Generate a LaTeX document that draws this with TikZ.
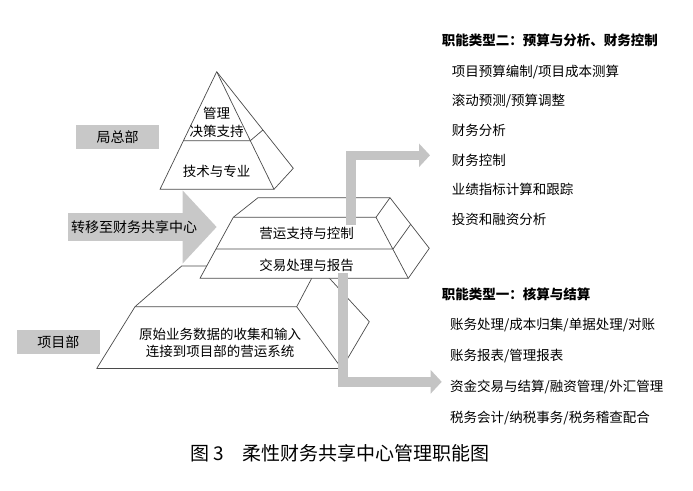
\documentclass[tikz,border=0pt]{standalone}
\usepackage{fontspec}
\setmainfont{Noto Sans CJK SC}
\usepackage{tikz}
\usetikzlibrary{arrows.meta}
\definecolor{boxgray}{HTML}{C8C8C8}
\definecolor{arrowgray}{HTML}{C4C4C4}
\definecolor{edgegray}{HTML}{4A4A4A}

\begin{document}
\begin{tikzpicture}[x=1pt, y=-1pt,
    tier/.style={draw=edgegray, line width=0.7pt, line join=round},
    lbl/.style={font=\fontsize{13.5}{16}\selectfont},
    deptbox/.style={fill=boxgray, minimum width=83pt, minimum height=24pt, font=\fontsize{14}{16}\selectfont},
    flow/.style={draw=arrowgray, line width=9.5pt, -{Triangle[width=23pt, length=11pt]}},
    item/.style={anchor=west, inner sep=0pt, font=\fontsize{13.5}{16}\selectfont},
    head/.style={anchor=west, inner sep=0pt, font=\bfseries\fontsize{13.5}{16}\selectfont}]
    \useasboundingbox (0,0) rectangle (693,490);

    % Project department (bottom tier)
    \draw[tier, fill=white] (181.7,266) -- (318.2,266) -- (369.3,321.7) -- (341.7,368.5) -- (96.7,368.5) -- (135,306.7) -- cycle;
    \draw[tier] (135,306.7) -- (296.7,306.7) -- (318.2,266);
    \draw[tier] (296.7,306.7) -- (341.7,368.5);

    % Shared service center (middle tier)
    \draw[tier, fill=white] (258,197.7) -- (390,197.7) -- (429.3,248.3) -- (408.3,278.3) -- (200,278.3) -- (233.3,217.3) -- cycle;
    \draw[tier] (233.3,217.3) -- (376,217.3) -- (390,197.7);
    \draw[tier] (376,217.3) -- (408.3,278.3);
    \draw[tier] (216,249) -- (393,249) -- (410.7,224.3);

    % Head office (pyramid)
    \draw[tier, fill=white] (216.7,71.7) -- (293.3,168.3) -- (274,189.3) -- (160,189.3) -- cycle;
    \draw[tier] (216.7,71.7) -- (274,189.3);
    \draw[tier] (183.4,140.7) -- (250.3,140.7) -- (262.9,130);

    \node[lbl] (glue) at (216.7,113) {管理};
    \node[lbl] (jczc) at (216.7,131.7) {决策支持};
    \node[lbl] (jszy) at (216.7,171.7) {技术与专业};
    \node[lbl] (yyzc) at (306.7,233.3) {营运支持与控制};
    \node[lbl] (jycl) at (306.7,265) {交易处理与报告};
    \node[lbl] (ysyw) at (220,334) {原始业务数据的收集和输入};
    \node[lbl] (ljxm) at (220,351.7) {连接到项目部的营运系统};

    % Department labels
    \node[deptbox] (jzb) at (117.5,137) {局总部};
    \node[deptbox] (xmb) at (58.3,342.3) {项目部};

    % Transfer arrow
    \coordinate (zyA) at (68,227);
    \coordinate (zyB) at (216.7,227);
    \draw[draw=boxgray, line width=28pt, -{Triangle[width=71pt, length=34pt]}] (zyA) -- (zyB);
    \node[anchor=west, inner sep=0pt, font=\fontsize{14}{16}\selectfont] (zy) at (71,227) {转移至财务共享中心};

    % Function arrows
    \coordinate (up0) at (351,225);
    \coordinate (up1) at (430,155.3);
    \coordinate (dn0) at (343,273);
    \coordinate (dn1) at (441.7,381.8);
    \draw[flow] (up0) |- (up1);
    \draw[flow] (dn0) |- (dn1);

    % Function type two
    \node[head] (lx2) at (441.7,40.7) {职能类型二：预算与分析、财务控制};
    \node[item] (a1) at (451.7,71.7) {项目预算编制/项目成本测算};
    \node[item] (a2) at (451.7,101) {滚动预测/预算调整};
    \node[item] (a3) at (451.7,130.3) {财务分析};
    \node[item] (a4) at (451.7,160) {财务控制};
    \node[item] (a5) at (451.7,189.5) {业绩指标计算和跟踪};
    \node[item] (a6) at (451.7,219.3) {投资和融资分析};

    % Function type one
    \node[head] (lx1) at (441.7,294) {职能类型一：核算与结算};
    \node[item] (b1) at (450,325) {账务处理/成本归集/单据处理/对账};
    \node[item] (b2) at (450,356) {账务报表/管理报表};
    \node[item] (b3) at (450,386.7) {资金交易与结算/融资管理/外汇管理};
    \node[item] (b4) at (450,418.3) {税务会计/纳税事务/税务稽查配合};

    \node[anchor=west, inner sep=0pt, font=\fontsize{19}{22}\selectfont] (cap) at (190,453.3) {图~3\quad 柔性财务共享中心管理职能图};
\end{tikzpicture}
\end{document}
